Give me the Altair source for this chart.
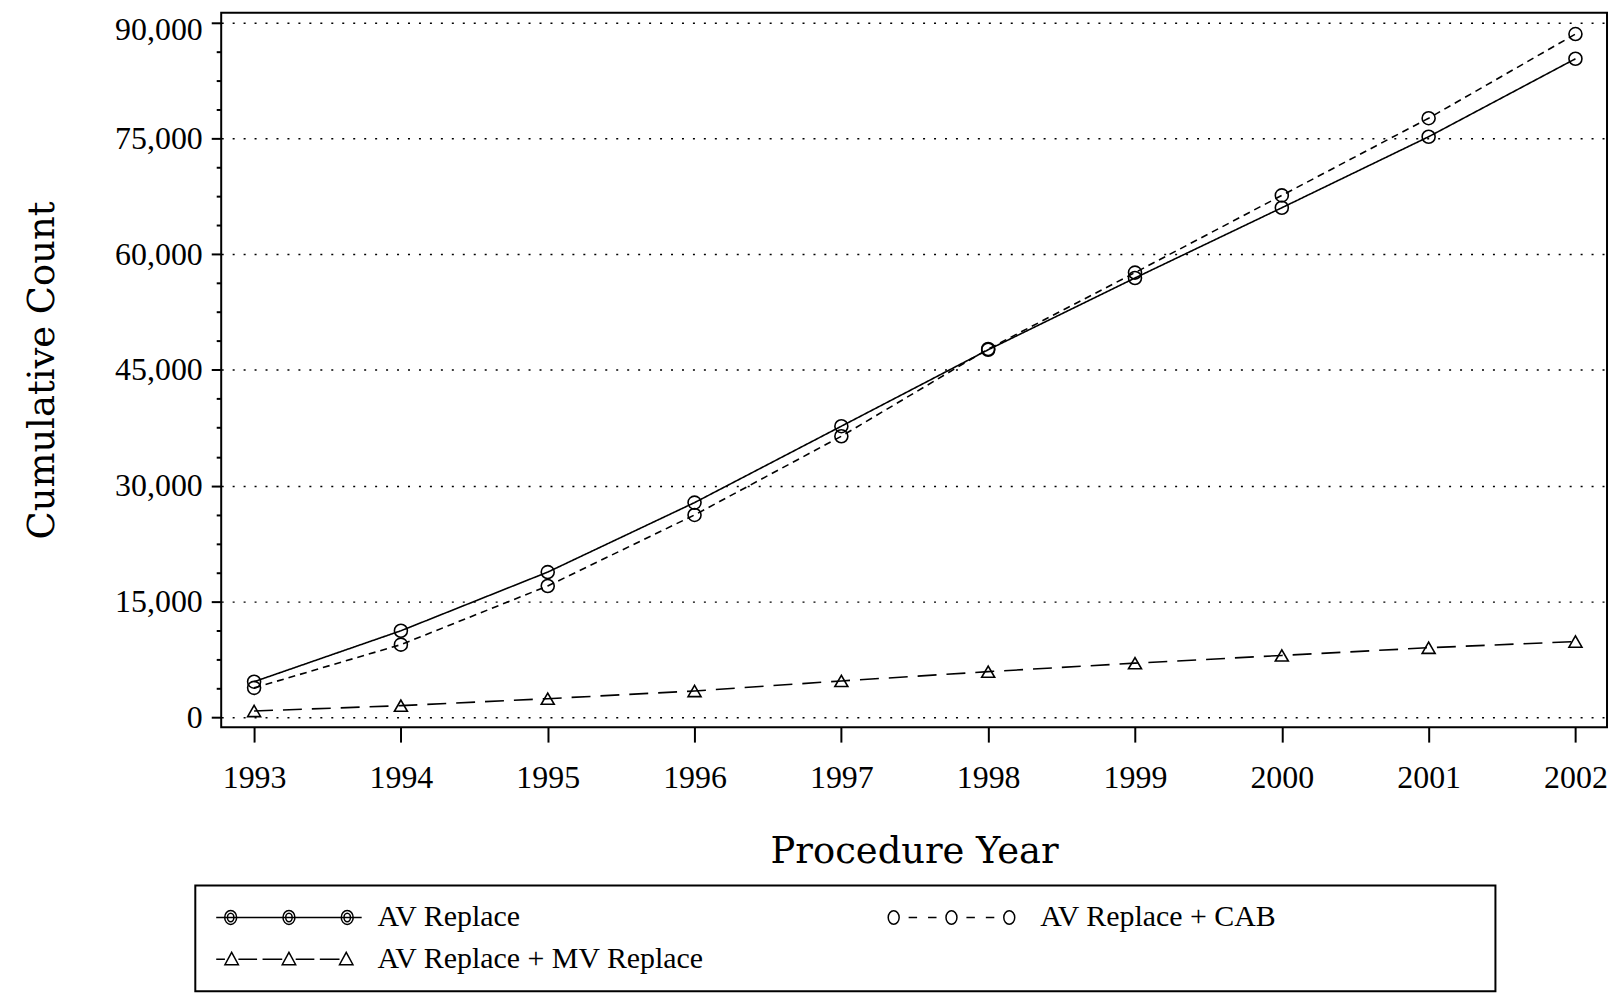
import altair as alt
import pandas as pd

# ---- data ----
years = [1993, 1994, 1995, 1996, 1997, 1998, 1999, 2000, 2001, 2002]
av_replace = [4600, 11200, 18800, 27800, 37700, 47600, 56900, 66000, 75200, 85300]
av_cab = [3800, 9400, 17000, 26200, 36400, 47700, 57600, 67600, 77600, 88500]
av_mv = [800, 1500, 2400, 3400, 4700, 5900, 7000, 8000, 9000, 9800]
series_names = ["AV Replace", "AV Replace + CAB", "AV Replace + MV Replace"]
# legend reading order (Vega fills legend columns first)
legend_order = ["AV Replace", "AV Replace + MV Replace", "AV Replace + CAB"]
y_major = [0, 15000, 30000, 45000, 60000, 75000, 90000]
x_ticks = years

df = pd.DataFrame({
    "year": years * 3,
    "count": av_replace + av_cab + av_mv,
    "series": [series_names[0]] * len(years)
    + [series_names[1]] * len(years)
    + [series_names[2]] * len(years),
})

# minor ticks: 3 between each pair of major ticks
y_ticks = []
for a, b in zip(y_major[:-1], y_major[1:]):
    step = (b - a) / 4
    y_ticks += [a + step * i for i in range(4)]
y_ticks.append(y_major[-1])

TITLE_FONT = "DejaVu Serif"
LABEL_FONT = "Liberation Serif"
MAJOR = "datum.value % 15000 === 0"

# ---- legend symbols (line with three markers), in symbol units ----
K = 0.5523


def ellipse(cx, rx, ry):
    return (f"M{cx+rx},0C{cx+rx},{K*ry} {cx+K*rx},{ry} {cx},{ry}"
            f"C{cx-K*rx},{ry} {cx-rx},{K*ry} {cx-rx},0"
            f"C{cx-rx},{-K*ry} {cx-K*rx},{-ry} {cx},{-ry}"
            f"C{cx+K*rx},{-ry} {cx+rx},{-K*ry} {cx+rx},0Z")


def tri(cx):
    return f"M{cx},-1.4L{cx+1.35},1.1L{cx-1.35},1.1Z"


def seg(a, b):
    return f"M{a},0L{b},0"


sym_av = seg(-14.6, 14.6) + "".join(
    ellipse(c, 1.2, 1.4) + ellipse(c, 0.65, 0.85) for c in (-11.7, 0, 11.7))
sym_cab = "".join(ellipse(c, 1.1, 1.35) for c in (-11.6, 0, 11.6))
sym_cab += seg(-8.6, -6.9) + seg(-4.7, -3.0) + seg(3.0, 4.7) + seg(6.9, 8.6)
sym_mv = "".join(tri(c) for c in (-11.5, 0, 11.5))
sym_mv += (seg(-14.6, -12.85) + seg(-10.15, -6.4) + seg(-5.3, -1.35)
           + seg(1.35, 5.1) + seg(6.2, 10.15))
legend_symbols = {series_names[0]: sym_av, series_names[1]: sym_cab, series_names[2]: sym_mv}

x_enc = alt.X(
    "year:Q",
    scale=alt.Scale(domain=[1992.776, 2002.215], nice=False, zero=False),
    axis=alt.Axis(
        values=x_ticks, format="d", title="Procedure Year", grid=False,
        domain=False, tickSize=15, tickWidth=2, tickColor="black",
        labelPadding=21, labelFlush=False,
        labelFont=LABEL_FONT, labelFontSize=32,
        titleFont=TITLE_FONT, titleFontSize=37, titleFontWeight="normal",
        titleBaseline="alphabetic", titleY=136,
        labelColor="black", titleColor="black",
    ),
)
y_enc = alt.Y(
    "count:Q",
    scale=alt.Scale(domain=[-1290, 91252], nice=False, zero=False),
    axis=alt.Axis(
        values=y_ticks, title="Cumulative Count", domain=False,
        labelExpr=f"{MAJOR} ? format(datum.value, ',') : ''",
        labelOverlap=False, labelFlush=False,
        labelOffset={"condition": {"test": "datum.value === 90000", "value": 7}, "value": 0},
        tickSize={"condition": {"test": MAJOR, "value": 10}, "value": 5},
        tickWidth=2, tickColor="black", labelPadding=9,
        grid=True, gridDash=[2, 9], gridColor="black", gridWidth=1.5,
        gridOpacity={"condition": {"test": MAJOR, "value": 1}, "value": 0},
        labelFont=LABEL_FONT, labelFontSize=32,
        titleFont=TITLE_FONT, titleFontSize=37, titleFontWeight="normal",
        titleBaseline="alphabetic", titleX=-168,
        labelColor="black", titleColor="black",
    ),
)

base = alt.Chart(df)

lines = base.mark_line(color="black", strokeWidth=1.6).encode(
    x=x_enc, y=y_enc,
    strokeDash=alt.StrokeDash(
        "series:N",
        scale=alt.Scale(domain=series_names, range=[[1, 0], [7, 5], [19, 10]]),
        legend=None,
    ),
)

points = base.mark_point(color="black", filled=False, strokeWidth=1.6, opacity=1).encode(
    x=x_enc, y=y_enc,
    shape=alt.Shape(
        "series:N",
        scale=alt.Scale(domain=series_names, range=["circle", "circle", "triangle-up"]),
        legend=None,
    ),
    size=alt.Size(
        "series:N",
        scale=alt.Scale(domain=series_names, range=[170, 170, 200]),
        legend=None,
    ),
)

# non-breaking spaces closed by a zero-width joiner so that the label keeps its width
pad_label = "'" + "\u00a0" * 27 + "\u200d'"
legend_layer = base.mark_point(color="black", filled=False, opacity=0).encode(
    x=x_enc, y=y_enc,
    shape=alt.Shape(
        "series:N",
        scale=alt.Scale(domain=legend_order,
                        range=[legend_symbols[s] for s in legend_order]),
        legend=alt.Legend(
            title=None, orient="none", legendX=-26, legendY=876,
            columns=2, columnPadding=171, rowPadding=12, padding=17,
            symbolSize=100, symbolOffset=62, labelOffset=74,
            symbolOpacity=1, symbolStrokeColor="black", symbolStrokeWidth=1.5,
            symbolFillColor="transparent",
            labelFont=LABEL_FONT, labelFontSize=30, labelColor="black",
            labelLimit=2000,
            labelExpr=f"datum.label === 'AV Replace + CAB' ? datum.label + {pad_label} : datum.label",
            strokeColor="black", fillColor="white",
        ),
    ),
)

chart = (
    alt.layer(lines, points, legend_layer)
    .resolve_scale(shape="independent", size="independent")
    .properties(
        width=1391, height=717,
        autosize=alt.AutoSizeParams(type="none"),
        padding={"left": 214, "top": 3, "right": 4, "bottom": 268},
    )
    .configure(font=TITLE_FONT)
    .configure_legend(strokeWidth=2)
    .configure_view(stroke="black", strokeWidth=2, fill="white")
)

chart.save("out.html", embed_options={"renderer": "svg", "actions": False})
